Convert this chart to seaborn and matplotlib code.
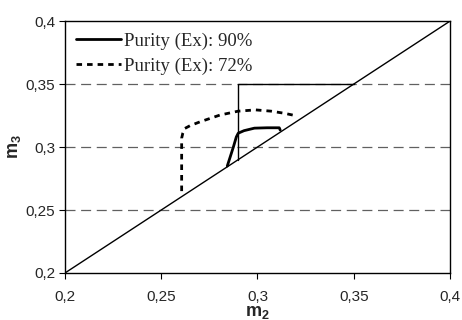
import matplotlib
matplotlib.use("Agg")
import matplotlib.pyplot as plt
import seaborn as sns
import pandas as pd

# Region boundaries (diagonal and triangle)
diag_m2 = [0.2, 0.4]
diag_m3 = [0.2, 0.4]
tri_m2 = [0.29, 0.29, 0.35]
tri_m3 = [0.29, 0.35, 0.35]

# Purity (Ex): 90%
p90_m2 = [0.2843, 0.2860, 0.2875, 0.2890, 0.2900, 0.2930, 0.2984, 0.3050, 0.3113, 0.3118]
p90_m3 = [0.2849, 0.2930, 0.3002, 0.3080, 0.3110, 0.3130, 0.3150, 0.3153, 0.3153, 0.3135]

# Purity (Ex): 72%
p72_m2 = [0.2606, 0.2606, 0.2606, 0.2612, 0.2623, 0.2650, 0.2701, 0.2805, 0.2900, 0.2990, 0.3070, 0.3140, 0.3183]
p72_m3 = [0.2650, 0.2900, 0.3070, 0.3110, 0.3148, 0.3170, 0.3200, 0.3254, 0.3285, 0.3295, 0.3285, 0.3268, 0.3254]

ticks = [0.2, 0.25, 0.3, 0.35, 0.4]
tick_labels = ["0,2", "0,25", "0,3", "0,35", "0,4"]

sns.set_theme(style="white")
plt.rcParams["font.family"] = ["Liberation Sans", "DejaVu Sans"]
plt.rcParams["mathtext.fontset"] = "custom"
plt.rcParams["mathtext.bf"] = "Liberation Sans:bold"
plt.rcParams["mathtext.rm"] = "Liberation Sans"

fig = plt.figure(figsize=(4.62, 3.2), dpi=100)
ax = fig.add_axes([0.1407, 0.147, 0.8333, 0.787])

for y in [0.25, 0.3, 0.35]:
    ax.axhline(y, color="#606060", lw=0.9, ls=(0, (8, 4.5)), zorder=1)

ax.plot(diag_m2, diag_m3, color="black", lw=1.0, zorder=2)
ax.plot(tri_m2, tri_m3, color="black", lw=1.0, zorder=2)

df90 = pd.DataFrame({"m2": p90_m2, "m3": p90_m3})
df72 = pd.DataFrame({"m2": p72_m2, "m3": p72_m3})
sns.lineplot(data=df90, x="m2", y="m3", sort=False, estimator=None, ax=ax,
             color="black", lw=2.0, label="Purity (Ex): 90%", zorder=3)
sns.lineplot(data=df72, x="m2", y="m3", sort=False, estimator=None, ax=ax,
             color="black", lw=2.0, ls=(0, (2, 1.8)), label="Purity (Ex): 72%", zorder=3)

ax.set_xlim(0.2, 0.4)
ax.set_ylim(0.2, 0.4)
ax.set_xticks(ticks)
ax.set_xticklabels(tick_labels)
ax.set_yticks(ticks)
ax.set_yticklabels(tick_labels)
ax.tick_params(direction="out", length=4, width=0.8, color="black",
               labelsize=11, pad=3, bottom=True, left=True)
ax.tick_params(axis="x", pad=8)

for s in ax.spines.values():
    s.set_color("black")
    s.set_linewidth(1.0)

ax.set_xlabel(r"$\mathbf{m}_\mathbf{2}$", fontsize=13, labelpad=0)
ax.set_ylabel(r"$\mathbf{m}_\mathbf{3}$", fontsize=13, labelpad=2)

leg = ax.legend(loc="upper left", frameon=False, handlelength=2.4,
                handletextpad=0.15, borderaxespad=0.3, labelspacing=0.42,
                borderpad=0.3,
                prop={"family": ["Liberation Serif", "DejaVu Serif"], "size": 13.5})

fig.savefig("out.png", dpi=100)
